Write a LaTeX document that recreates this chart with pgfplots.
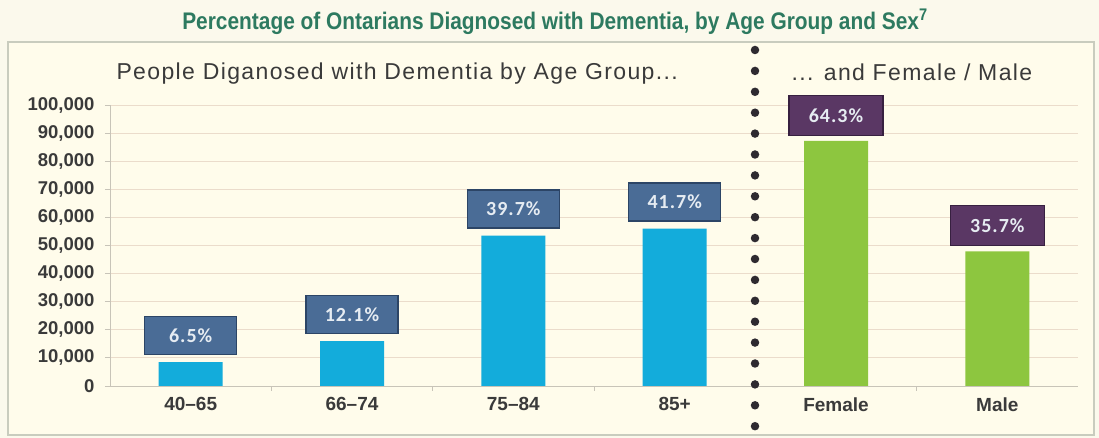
\documentclass[border=0pt]{standalone}
\usepackage{pgfplots}
\pgfplotsset{compat=1.18}
\usepackage{fontspec}
\setmainfont{Liberation Sans}
\newfontfamily\titlefont[FakeStretch=0.87]{Liberation Sans}
\newfontfamily\subfont[LetterSpace=6]{Liberation Sans}
\newfontfamily\boxfont[LetterSpace=5]{Carlito}
\definecolor{bgout}{HTML}{FBF9EC}
\definecolor{bg}{HTML}{FFFCEB}
\definecolor{panelborder}{HTML}{C9CCBE}
\definecolor{titlecol}{HTML}{2D7A60}
\definecolor{barblue}{HTML}{13ACDB}
\definecolor{bargreen}{HTML}{8DC63F}
\definecolor{boxblue}{HTML}{4A6C96}
\definecolor{boxblueborder}{HTML}{2C4566}
\definecolor{boxpurple}{HTML}{5A3764}
\definecolor{boxpurpleborder}{HTML}{372040}
\definecolor{boxtext}{HTML}{E6ECF2}
\definecolor{ticktext}{HTML}{3A3A3A}
\definecolor{gridcol}{HTML}{EBDCCB}
\definecolor{axiscol}{HTML}{C8C4B8}
\definecolor{dotcol}{HTML}{2E2A30}
\definecolor{subcol}{HTML}{3A3A3A}
\begin{document}
\begin{tikzpicture}
\fill[bgout] (0pt,0pt) rectangle (1099pt,438pt);
\draw[panelborder, line width=1.2pt, fill=bg] (8pt,3pt) rectangle (1094pt,396pt);
\node[text=titlecol, font=\titlefont\bfseries\fontsize{24}{28}\selectfont] at (555pt,416pt) {Percentage of Ontarians Diagnosed with Dementia, by Age Group and Sex\textsuperscript{7}};
\begin{axis}[
  at={(110pt,52pt)}, anchor=south west,
  scale only axis, width=968pt, height=281pt,
  xmin=-0.5, xmax=5.5, ymin=0, ymax=100000,
  clip=false,
  axis x line*=bottom, axis y line*=left,
  axis line style={draw=axiscol, line width=0.8pt},
  ytick={0,10000,...,100000},
  ymajorgrids, grid style={draw=gridcol, line width=0.8pt},
  ytick style={draw=axiscol, line width=0.8pt},
  major tick length=5pt, tick align=outside,
  xtick={0,...,5},
  xticklabels={40--65,66--74,75--84,85+,Female,Male},
  xtick style={draw=none},
  extra x ticks={0.5,1.5,2.5,4.5},
  extra x tick labels={},
  extra x tick style={xtick style={draw=axiscol, line width=0.8pt}, grid=none},
  scaled y ticks=false,
  yticklabel style={font=\bfseries\fontsize{18.5}{20}\selectfont, text=ticktext, xshift=-7pt},
  xticklabel style={font=\bfseries\fontsize{19}{21}\selectfont, text=ticktext, yshift=-3pt},
  /pgf/number format/.cd, fixed, 1000 sep={,}, assume math mode=true,
]
\addplot[ybar, bar width=64pt, fill=barblue, draw=none,
  point meta=explicit symbolic, nodes near coords,
  every node near coord/.append style={fill=boxblue, draw=boxblueborder, line width=1.2pt,
    text=boxtext, font=\boxfont\bfseries\fontsize{20}{22}\selectfont,
    minimum width=92pt, minimum height=38pt, inner sep=0pt, anchor=south, yshift=7pt}]
coordinates {(0,8500) [6.5\%] (1,16000) [12.1\%] (2,53500) [39.7\%] (3,56000) [41.7\%]};
\addplot[ybar, bar width=64pt, fill=bargreen, draw=none,
  point meta=explicit symbolic, nodes near coords,
  every node near coord/.append style={fill=boxpurple, draw=boxpurpleborder, line width=1.2pt,
    text=boxtext, font=\boxfont\bfseries\fontsize{20}{22}\selectfont,
    minimum width=94pt, minimum height=40pt, inner sep=0pt, anchor=south, yshift=5pt}]
coordinates {(4,87200) [64.3\%] (5,47900) [35.7\%]};
\end{axis}
\draw[dotcol, line width=8.5pt, line cap=round, dash pattern=on 0pt off 20.9pt] (755pt,388pt) -- (755pt,10pt);
\node[text=subcol, font=\subfont\fontsize{23}{27}\selectfont, anchor=west] at (113pt,364pt) {People Diganosed with Dementia by Age Group...};
\node[text=subcol, font=\subfont\fontsize{23}{27}\selectfont, anchor=west] at (788pt,366pt) {... and Female / Male};
\end{tikzpicture}
\end{document}
